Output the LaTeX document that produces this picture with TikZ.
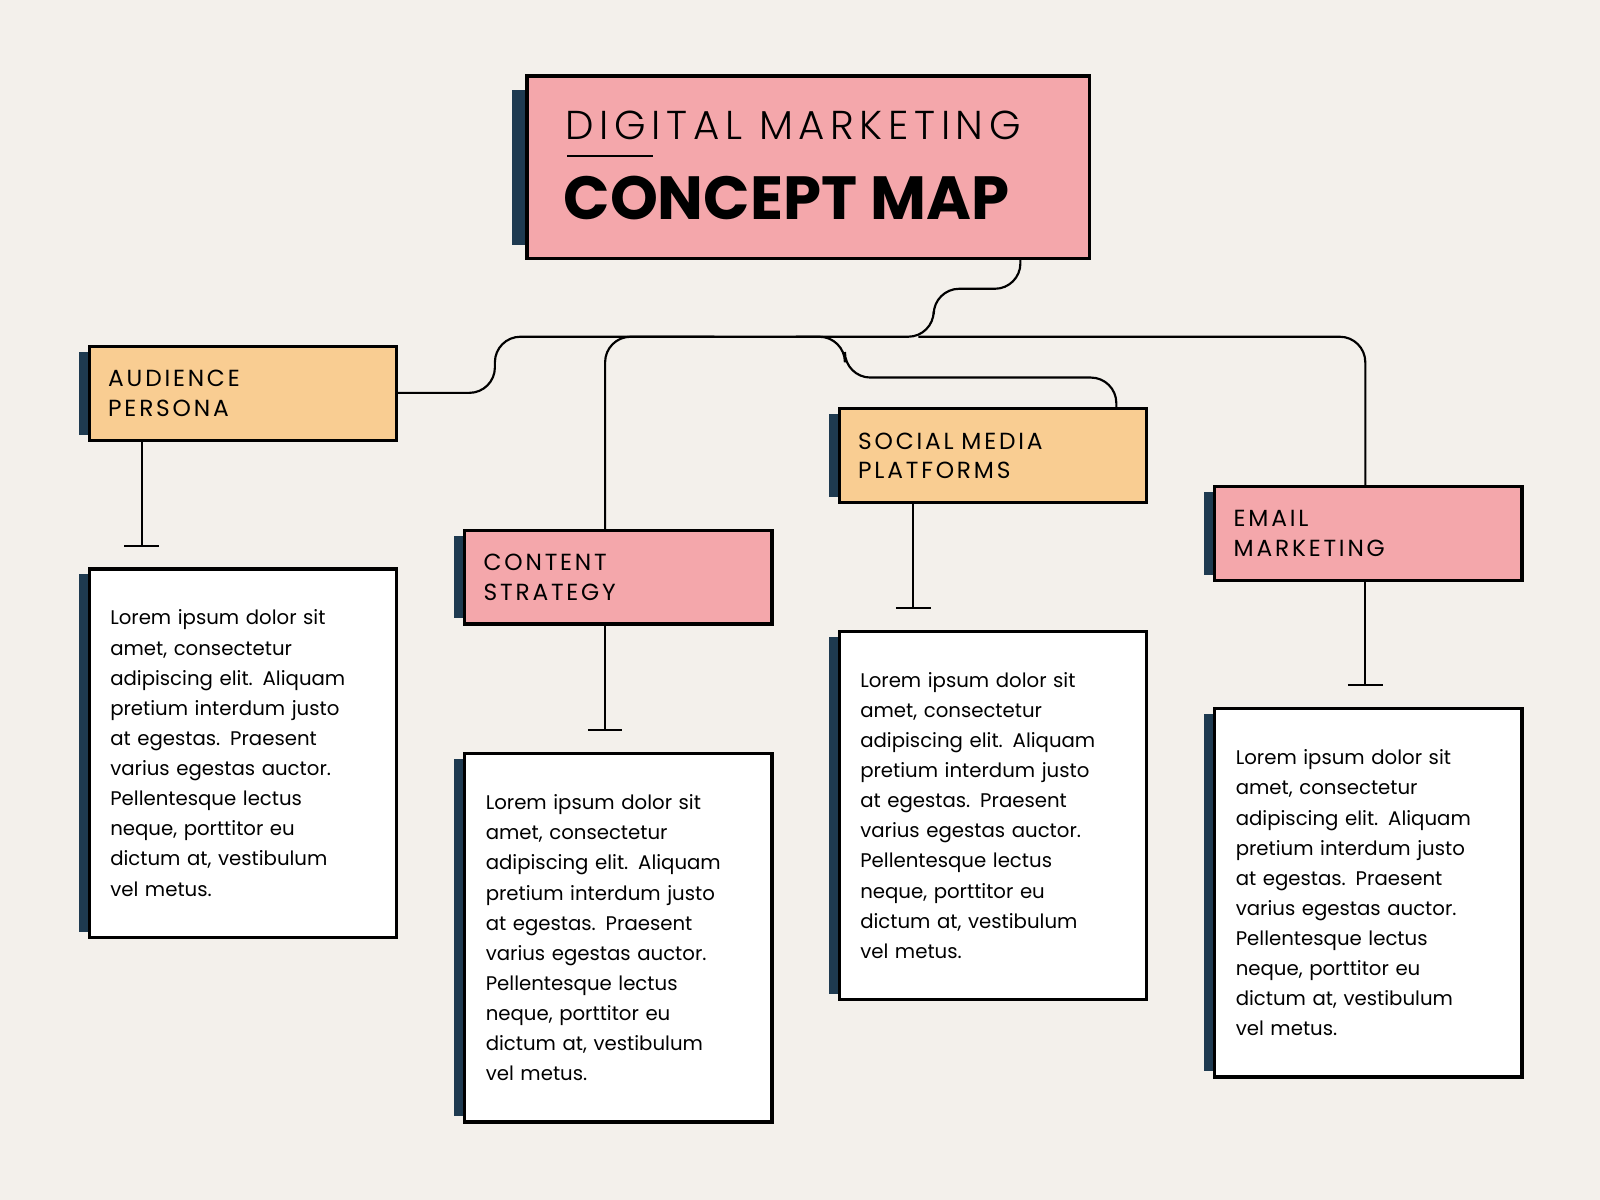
\documentclass[tikz,border=0pt]{standalone}
\usepackage{fontspec}
\setmainfont{Poppins}
\usetikzlibrary{positioning, calc}
\definecolor{bgcol}{HTML}{F3F0EB}
\definecolor{pinkcol}{HTML}{F4A7AB}
\definecolor{orangecol}{HTML}{F9CD92}
\definecolor{navycol}{HTML}{1E3A50}
\newfontfamily\spacedfont[LetterSpace=12]{Poppins}
\newfontfamily\titlefont[LetterSpace=14]{Poppins Light}
\tikzset{
    box/.style = {draw=black, line width=1.2pt, anchor=north west, inner sep=0pt},
    head/.style = {box, minimum width=6cm, minimum height=1.82cm, text width=5.28cm,
        inner xsep=0.36cm, align=left, font=\spacedfont\fontsize{13}{16.5}\selectfont},
    pinkhead/.style = {head, fill=pinkcol},
    orangehead/.style = {head, fill=orangecol},
    body/.style = {box, fill=white, minimum width=6cm, minimum height=7.2cm, text width=5.2cm,
        inner xsep=0.38cm, align=left, font=\fontsize{11}{16.8}\selectfont},
    stripe/.style = {fill=navycol},
    link/.style = {line width=1.2pt, rounded corners=0.5cm},
    tee/.style = {line width=1.2pt},
}
\newcommand{\lorem}{Lorem ipsum dolor sit\\ amet, consectetur\\ adipiscing elit. Aliquam\\ pretium interdum justo\\ at egestas. Praesent\\ varius egestas auctor.\\ Pellentesque lectus\\ neque, porttitor eu\\ dictum at, vestibulum\\ vel metus.}
\begin{document}
\begin{tikzpicture}[x=0.02cm, y=-0.02cm]
    \fill[bgcol] (0,0) rectangle (1568,1176);
    % connectors
    \draw[link] (1000,252) -- (1000,283) -- (915,283) -- (915,330) -- (485,330) -- (485,385) -- (386,385);
    \draw[link] (700,330) -- (593,330) -- (593,519);
    \draw[link] (780,330) -- (828,330) -- (828,370) -- (1094,370) -- (1094,400);
    \draw[link] (900,330) -- (1338,330) -- (1338,476);
    % title
    \node[box, fill=pinkcol, minimum width=11cm, minimum height=3.56cm] (title) at (516,74) {};
    \fill[stripe] ([xshift=-0.28cm,yshift=-0.28cm]title.north west) rectangle ([yshift=0.28cm]title.south west);
    \draw[box] (title.north west) rectangle (title.south east);
    \node[anchor=base west, inner sep=0pt, font=\titlefont\fontsize{22.5}{24}\selectfont] (titletop) at (554,137) {DIGITAL MARKETING};
    \draw[line width=0.8pt] (556,153) -- (640,153);
    \node[anchor=base west, inner sep=0pt, font=\bfseries\fontsize{34}{36}\selectfont] (titlebot) at (552,215) {CONCEPT MAP};
    % headings
    \node[orangehead] (aud) at (87,339) {AUDIENCE\\PERSONA};
    \node[pinkhead] (con) at (455,519) {CONTENT\\STRATEGY};
    \node[orangehead] (soc) at (822,400) {SOCIAL MEDIA\\PLATFORMS};
    \node[pinkhead] (ema) at (1190,476) {EMAIL\\MARKETING};
    % text boxes
    \node[body] (audtxt) at (87,557) {\lorem};
    \node[body] (contxt) at (455,738) {\lorem};
    \node[body] (soctxt) at (822,618) {\lorem};
    \node[body] (ematxt) at (1190,694) {\lorem};
    \foreach \b in {aud, con, soc, ema, audtxt, contxt, soctxt, ematxt} {
        \fill[stripe] ([xshift=-0.2cm,yshift=-0.12cm]\b.north west) rectangle ([yshift=0.12cm]\b.south west);
        \draw[box] (\b.north west) rectangle (\b.south east);
    }
    % stems
    \draw[tee] (aud.south -| 139,0) -- (139,535) coordinate (audend);
    \draw[tee] ([xshift=-0.34cm]audend) -- ([xshift=0.34cm]audend);
    \draw[tee] (con.south -| 593,0) -- (593,715) coordinate (conend);
    \draw[tee] ([xshift=-0.34cm]conend) -- ([xshift=0.34cm]conend);
    \draw[tee] (soc.south -| 895,0) -- (895,596) coordinate (socend);
    \draw[tee] ([xshift=-0.34cm]socend) -- ([xshift=0.34cm]socend);
    \draw[tee] (ema.south -| 1338,0) -- (1338,671) coordinate (emaend);
    \draw[tee] ([xshift=-0.34cm]emaend) -- ([xshift=0.34cm]emaend);
\end{tikzpicture}
\end{document}
